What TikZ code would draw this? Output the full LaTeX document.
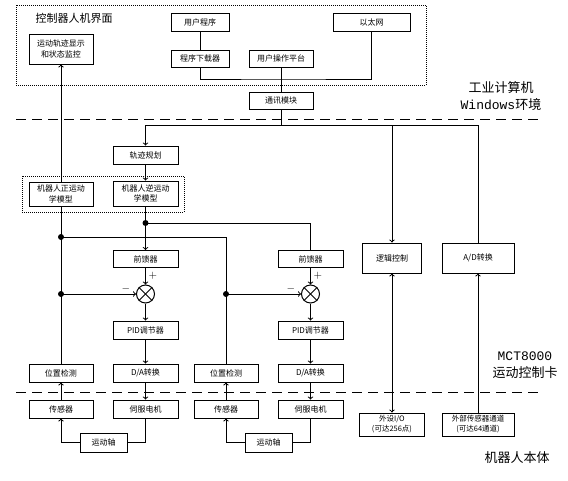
\documentclass[tikz,border=0pt]{standalone}
\usepackage{fontspec}
\setmainfont{Noto Sans CJK SC}
\newfontfamily\winfont{Liberation Mono}
\usetikzlibrary{shapes,arrows,positioning,calc}
\begin{document}
\begin{tikzpicture}[
        x=1pt, y=-1pt,
        line width=1pt,
        >=to,
        block/.style = {rectangle, draw, fill=white, inner sep=0pt, align=center, minimum width=65pt, minimum height=18pt, font=\fontsize{8}{10.5}\selectfont},
        sumnode/.style = {circle, draw, fill=white, inner sep=0pt, minimum size=18pt},
        sign/.style = {inner sep=0pt, font=\fontsize{11}{12}\selectfont},
        label/.style = {align=center, inner sep=0pt, font=\fontsize{13}{17}\selectfont},
        region/.style = {draw, densely dotted},
        sepline/.style = {draw, dash pattern=on 10pt off 6pt},
        line/.style = {draw, ->}
    ]
    \useasboundingbox (0,0) rectangle (568,480);

        % Place nodes
        \draw [region] (16,5) rectangle (426,85);
        \node [anchor=west, inner sep=0pt, font=\fontsize{11}{13}\selectfont] at (35,18) (uititle) {控制器人机界面};
        \node [block, minimum width=64pt, minimum height=30pt] at (61,49) (disp) {运动轨迹显示\\和状态监控};
        \node [block, minimum width=58pt] at (200,22) (prog) {用户程序};
        \node [block, minimum width=58pt, minimum height=17pt] at (200,58.5) (download) {程序下载器};
        \node [block, minimum width=64pt, minimum height=17pt] at (281,58.5) (userop) {用户操作平台};
        \node [block, minimum width=77pt] at (371.5,22) (ether) {以太网};
        \node [block, minimum width=64pt, minimum height=17pt] at (281,100.5) (comm) {通讯模块};
        \coordinate (uibus) at (281,79);
        \coordinate (cardbus) at (281,125);

        \node [block] at (145.5,155) (traj) {轨迹规划};
        \draw [region] (22,176) rectangle (184,212);
        \node [block, minimum width=64pt, minimum height=24pt] at (61,194) (fk) {机器人正运动\\学模型};
        \node [block, minimum height=25pt] at (145.5,193.5) (ik) {机器人逆运动\\学模型};
        \coordinate (ikdot) at (145.5,223);
        \coordinate (fkdot) at (61,237);

        % axis 1
        \node [block, minimum height=17pt] at (145.5,259) (ff1) {前馈器};
        \node [sumnode] at (145.5,294) (sum1) {};
        \node [sign] at (153,276) (plus1) {$+$};
        \node [sign] at (126,289) (minus1) {$-$};
        \node [block] at (145.5,330) (pid1) {PID调节器};
        \node [block] at (145.5,373) (da1) {D/A转换};
        \node [block, minimum width=64pt] at (61,373) (pos1) {位置检测};
        \node [block, minimum width=64pt] at (61,409) (sens1) {传感器};
        \node [block] at (145.5,409) (servo1) {伺服电机};
        \node [block, minimum width=47pt, minimum height=19pt] at (103.5,442.5) (axis1) {运动轴};
        \coordinate (fb1) at (61,294);

        % axis 2
        \node [block, minimum height=17pt] at (310.5,259) (ff2) {前馈器};
        \node [sumnode] at (310.5,294) (sum2) {};
        \node [sign] at (318,276) (plus2) {$+$};
        \node [sign] at (291,289) (minus2) {$-$};
        \node [block] at (310.5,330) (pid2) {PID调节器};
        \node [block] at (310.5,373) (da2) {D/A转换};
        \node [block, minimum width=64pt] at (226,373) (pos2) {位置检测};
        \node [block, minimum width=64pt] at (226,409) (sens2) {传感器};
        \node [block] at (310.5,409) (servo2) {伺服电机};
        \node [block, minimum width=47pt, minimum height=19pt] at (268.5,442.5) (axis2) {运动轴};
        \coordinate (fb2) at (226,294);

        \node [block, minimum width=59pt, minimum height=30pt] at (392,258) (logic) {逻辑控制};
        \node [block, minimum width=72pt, minimum height=30pt] at (478,258) (ad) {A/D转换};
        \node [block, minimum width=65pt, minimum height=23pt, font=\fontsize{7.5}{10}\selectfont] at (392,424.5) (io) {外设I/O\\(可达256点)};
        \node [block, minimum width=72pt, minimum height=23pt, font=\fontsize{7.5}{10}\selectfont] at (478,424.5) (ext) {外部传感器通道\\(可达64通道)};

        \node [label] at (501,96) (pclabel) {工业计算机\\{\winfont Windows}环境};
        \node [label] at (525,365) (cardlabel) {{\winfont MCT8000}\\运动控制卡};
        \node [label] at (517,458) (bodylabel) {机器人本体};

        \draw [sepline] (16,119) -- (542,119);
        \draw [sepline] (16,392) -- (542,392);

        % Draw edges
        \draw (prog.south) -- (download.north);
        \draw (download.south) |- (uibus) -| (ether.south);
        \draw (userop.south) -- (comm.north);
        \draw (comm.south) -- (cardbus);
        \draw [line] (cardbus) -| (traj.north);
        \draw [line] (cardbus) -| (logic.north);
        \draw (cardbus) -| (ad.north);
        \draw [line] (traj.south) -- (ik.north);
        \draw [line] (fk.north) -- (disp.south);
        \draw (ik.south) -- (ikdot);
        \draw [line] (ikdot) -- (ff1.north);
        \draw (ikdot) -| (ff2.north);
        \draw (pos1.north) -- (fk.south);
        \draw (fkdot) -| (pos2.north);
        \draw [line] (fb1) -- (sum1.west);
        \draw [line] (fb2) -- (sum2.west);
        \fill (ikdot) circle (3pt);
        \fill (fkdot) circle (3pt);
        \fill (fb1) circle (3pt);
        \fill (fb2) circle (3pt);

        \draw (sum1.north west) -- (sum1.south east);
        \draw (sum1.north east) -- (sum1.south west);
        \draw [line] (ff1.south) -- (sum1.north);
        \draw [line] (sum1.south) -- (pid1.north);
        \draw [line] (pid1.south) -- (da1.north);
        \draw [line] (da1.south) -- (servo1.north);
        \draw (servo1.south) |- (axis1.east);
        \draw [line] (axis1.west) -| (sens1.south);
        \draw [line] (sens1.north) -- (pos1.south);

        \draw (sum2.north west) -- (sum2.south east);
        \draw (sum2.north east) -- (sum2.south west);
        \draw [line] (ff2.south) -- (sum2.north);
        \draw [line] (sum2.south) -- (pid2.north);
        \draw [line] (pid2.south) -- (da2.north);
        \draw [line] (da2.south) -- (servo2.north);
        \draw (servo2.south) |- (axis2.east);
        \draw [line] (axis2.west) -| (sens2.south);
        \draw [line] (sens2.north) -- (pos2.south);

        \draw [<->] (logic.south) -- (io.north);
        \draw [line] (ext.north) -- (ad.south);

    \end{tikzpicture}
\end{document}
